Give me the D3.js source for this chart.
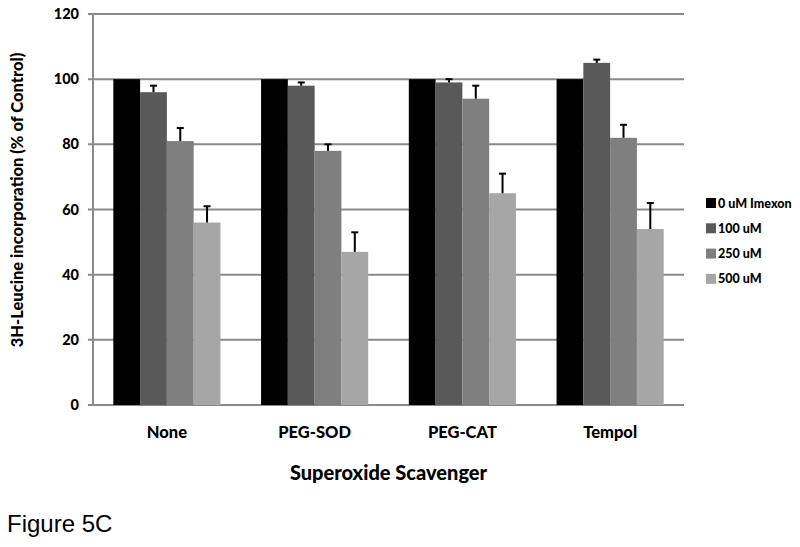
<!DOCTYPE html>
<html>
<head>
<meta charset="utf-8">
<script src="https://cdn.jsdelivr.net/npm/d3@7"></script>
<style>
  body { margin: 0; background: #fff; }
  text { font-family: Lato, "Open Sans", sans-serif; font-weight: 900; fill: #000; }
</style>
</head>
<body>
<svg width="800" height="547"></svg>
<script>
// data
var groups = ["None", "PEG-SOD", "PEG-CAT", "Tempol"];
var series = ["0 uM Imexon", "100 uM", "250 uM", "500 uM"];
var values = [
  [100, 96, 81, 56],
  [100, 98, 78, 47],
  [100, 99, 94, 65],
  [100, 105, 82, 54]
];
var errors = [
  [0, 2, 4, 5],
  [0, 1, 2, 6],
  [0, 1, 4, 6],
  [0, 1, 4, 8]
];
var yTicks = [0, 20, 40, 60, 80, 100, 120];
var colors = ["#000000", "#595959", "#7f7f7f", "#a6a6a6"];

var svg = d3.select("svg");
var plotLeft = 93, plotRight = 684, plotTop = 14, plotBottom = 405;

var y = d3.scaleLinear().domain([0, 120]).range([plotBottom, plotTop]);
var x0 = d3.scaleBand().domain(groups).range([plotLeft, plotRight]).paddingInner(0.275).paddingOuter(0.1375);
var x1 = d3.scaleBand().domain(series).range([0, x0.bandwidth()]);

// gridlines + tick marks
svg.append("g")
  .selectAll("line")
  .data(yTicks)
  .enter()
  .append("line")
  .attr("x1", plotLeft - 5)
  .attr("x2", plotRight)
  .attr("y1", function(d) { return y(d); })
  .attr("y2", function(d) { return y(d); })
  .attr("stroke", "#8a8a8a")
  .attr("stroke-width", 2);

svg.append("line")
  .attr("x1", plotLeft).attr("x2", plotLeft)
  .attr("y1", plotTop).attr("y2", plotBottom)
  .attr("stroke", "#8a8a8a")
  .attr("stroke-width", 2);

// y tick labels
svg.append("g")
  .selectAll("text")
  .data(yTicks)
  .enter()
  .append("text")
  .attr("x", plotLeft - 14)
  .attr("y", function(d) { return y(d); })
  .attr("dy", "0.35em")
  .attr("text-anchor", "end")
  .attr("font-size", 14.5)
  .text(function(d) { return d; });

// bars
var rows = [];
groups.forEach(function(g, i) {
  series.forEach(function(s, j) {
    rows.push({group: g, series: s, idx: j, value: values[i][j], err: errors[i][j]});
  });
});

var bar = svg.append("g")
  .selectAll("g")
  .data(rows)
  .enter()
  .append("g")
  .attr("transform", function(d) { return "translate(" + (x0(d.group) + x1(d.series)) + ",0)"; });

bar.append("rect")
  .attr("x", 0)
  .attr("width", x1.bandwidth())
  .attr("y", function(d) { return y(d.value); })
  .attr("height", function(d) { return plotBottom - y(d.value); })
  .attr("fill", function(d) { return colors[d.idx]; });

// upper error bars
var eb = bar.filter(function(d) { return d.err > 0; });
eb.append("line")
  .attr("x1", x1.bandwidth() / 2).attr("x2", x1.bandwidth() / 2)
  .attr("y1", function(d) { return y(d.value); })
  .attr("y2", function(d) { return y(d.value + d.err); })
  .attr("stroke", "#000").attr("stroke-width", 2);
eb.append("line")
  .attr("x1", x1.bandwidth() / 2 - 3.5).attr("x2", x1.bandwidth() / 2 + 3.5)
  .attr("y1", function(d) { return y(d.value + d.err); })
  .attr("y2", function(d) { return y(d.value + d.err); })
  .attr("stroke", "#000").attr("stroke-width", 2);

// x labels
svg.append("g")
  .selectAll("text")
  .data(groups)
  .enter()
  .append("text")
  .attr("x", function(d) { return x0(d) + x0.bandwidth() / 2; })
  .attr("y", 438)
  .attr("text-anchor", "middle")
  .attr("font-size", 16.5)
  .text(function(d) { return d; });

svg.append("text")
  .attr("x", (plotLeft + plotRight) / 2)
  .attr("y", 480)
  .attr("text-anchor", "middle")
  .attr("font-size", 20)
  .text("Superoxide Scavenger");

svg.append("text")
  .attr("transform", "translate(23,200) rotate(-90)")
  .attr("text-anchor", "middle")
  .attr("font-size", 16.5)
  .text("3H-Leucine incorporation (% of Control)");

// legend
var legend = svg.append("g")
  .selectAll("g")
  .data(series)
  .enter()
  .append("g")
  .attr("transform", function(d, i) { return "translate(706," + (203 + i * 25.3) + ")"; });

legend.append("rect")
  .attr("x", 0).attr("y", -5)
  .attr("width", 10).attr("height", 10)
  .attr("fill", function(d, i) { return colors[i]; });

legend.append("text")
  .attr("x", 12)
  .attr("dy", "0.36em")
  .attr("font-size", 12.5)
  .text(function(d) { return d; });

svg.append("text")
  .attr("x", 7)
  .attr("y", 532)
  .attr("font-size", 24)
  .style("font-family", "'Liberation Sans', Arial, sans-serif")
  .style("font-weight", "normal")
  .text("Figure 5C");
</script>
</body>
</html>
